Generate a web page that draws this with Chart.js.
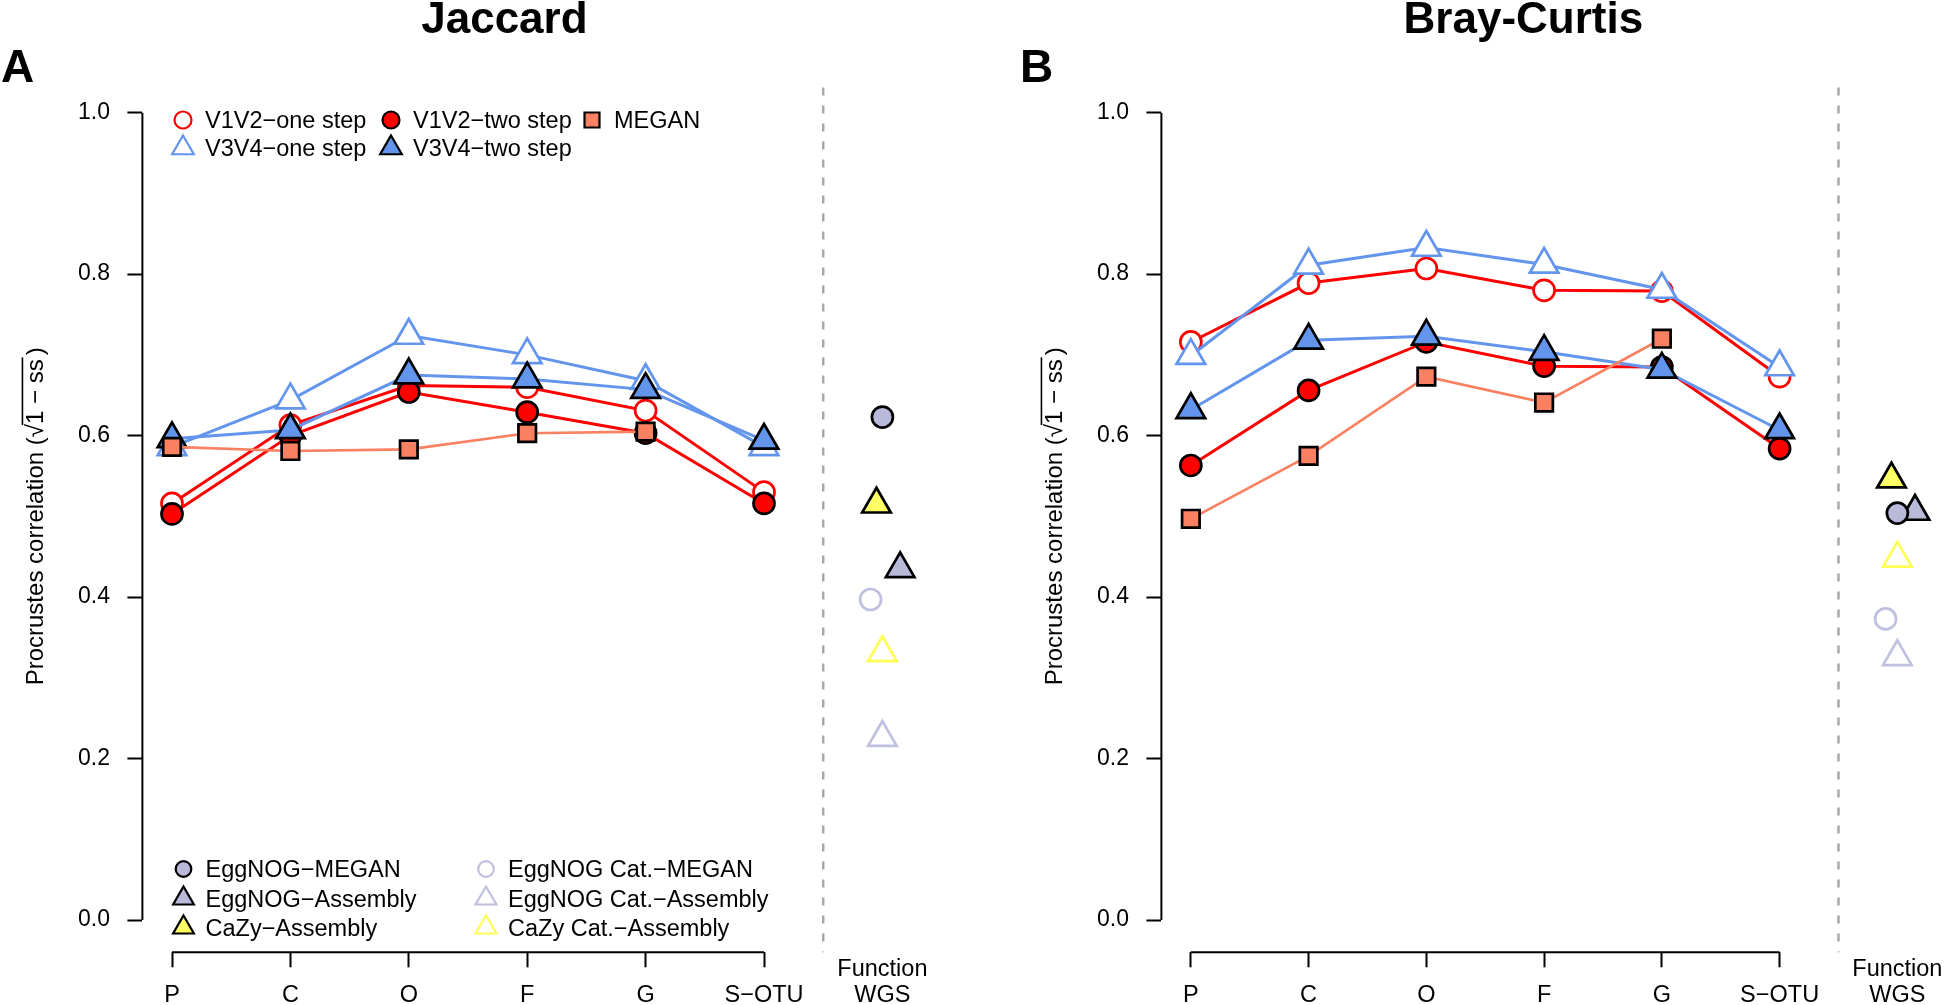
<!DOCTYPE html>
<html>
<head>
<meta charset="utf-8">
<script src="https://cdn.jsdelivr.net/npm/chart.js@4.4.1/dist/chart.umd.min.js"></script>
<style>
  html, body { margin: 0; padding: 0; background: #fff; }
  #wrap { position: relative; width: 1946px; height: 1005px; overflow: hidden; }
  canvas { position: absolute; top: 0; }
</style>
</head>
<body>
<div id="wrap">
  <canvas id="chartA" width="1019" height="1005" style="left:0"></canvas>
  <canvas id="chartB" width="927" height="1005" style="left:1019px"></canvas>
</div>
<script>
// ---- data ----
const ranks = ['P', 'C', 'O', 'F', 'G', 'S\u2212OTU'];
const rankX = [1, 2, 3, 4, 5, 6];

// Jaccard
const jacV12one = [0.516, 0.613, 0.662, 0.660, 0.631, 0.530];
const jacV12two = [0.503, 0.600, 0.654, 0.629, 0.603, 0.516];
const jacV34one = [0.586, 0.644, 0.724, 0.700, 0.668, 0.586];
const jacV34two = [0.596, 0.607, 0.675, 0.670, 0.657, 0.594];
const jacMegan  = [0.586, 0.581, 0.583, 0.603, 0.605];
// WGS function: EggNOG-MEGAN, EggNOG-Assembly, CaZy-Assembly, EggNOG Cat.-MEGAN, EggNOG Cat.-Assembly, CaZy Cat.-Assembly
const jacFunc = [0.623, 0.435, 0.515, 0.397, 0.226, 0.331];

// Bray-Curtis
const brayV12one = [0.716, 0.789, 0.807, 0.780, 0.779, 0.673];
const brayV12two = [0.563, 0.656, 0.716, 0.686, 0.685, 0.584];
const brayV34one = [0.699, 0.811, 0.833, 0.812, 0.781, 0.685];
const brayV34two = [0.632, 0.718, 0.723, 0.704, 0.682, 0.607];
const brayMegan  = [0.497, 0.575, 0.673, 0.641, 0.720];
const brayFunc = [0.504, 0.506, 0.546, 0.373, 0.326, 0.448];

// x position of the WGS points (jittered round 7)
const funcX = [7.0, 7.15, 6.95, 6.9, 7.0, 7.0];

// ---- styles ----
const FONT = '"Liberation Sans", Arial, Helvetica, sans-serif';
Chart.defaults.font.family = FONT;
Chart.defaults.color = '#000';

const red = '#FF0000', blue = '#6495ED', salmon = '#FA8062';
const lav = '#B9B9D9', lavOpen = '#C0C0E0', yel = '#FFFF66', yelOpen = '#FFFF55';

const seriesStyle = {
  v12one: { label: 'V1V2\u2212one step', line: red, pointStyle: 'circle', radius: 10.5, fill: '#fff', stroke: red, order: 5 },
  v12two: { label: 'V1V2\u2212two step', line: red, pointStyle: 'circle', radius: 10.5, fill: red, stroke: '#000', order: 4 },
  v34one: { label: 'V3V4\u2212one step', line: blue, pointStyle: 'triangle', radius: 16.5, fill: '#fff', stroke: blue, order: 3 },
  v34two: { label: 'V3V4\u2212two step', line: blue, pointStyle: 'triangle', radius: 16.5, fill: blue, stroke: '#000', order: 2 },
  megan:  { label: 'MEGAN', line: salmon, pointStyle: 'rect', radius: 12.4, fill: salmon, stroke: '#000', order: 1 }
};
const funcStyle = [
  { label: 'EggNOG\u2212MEGAN', pointStyle: 'circle', radius: 10.5, fill: lav, stroke: '#000' },
  { label: 'EggNOG\u2212Assembly', pointStyle: 'triangle', radius: 16.5, fill: lav, stroke: '#000' },
  { label: 'CaZy\u2212Assembly', pointStyle: 'triangle', radius: 16.5, fill: yel, stroke: '#000' },
  { label: 'EggNOG Cat.\u2212MEGAN', pointStyle: 'circle', radius: 10.5, fill: 'rgba(0,0,0,0)', stroke: lavOpen },
  { label: 'EggNOG Cat.\u2212Assembly', pointStyle: 'triangle', radius: 16.5, fill: 'rgba(0,0,0,0)', stroke: lavOpen },
  { label: 'CaZy Cat.\u2212Assembly', pointStyle: 'triangle', radius: 16.5, fill: 'rgba(0,0,0,0)', stroke: yelOpen }
];

// plot region geometry (pixels)
const AREA_LEFT = 142.4, AREA_RIGHT = 912, AREA_TOP = 80.4, AREA_BOTTOM = 952.3, HEIGHT = 1005;

// legend placement (panel A only)
const topLegend = [
  { key: 'v12one', x: 183, y: 120 }, { key: 'v12two', x: 391, y: 120 }, { key: 'megan', x: 592, y: 120 },
  { key: 'v34one', x: 183, y: 148 }, { key: 'v34two', x: 391, y: 148 }
];
const bottomLegend = [
  { f: 0, x: 183.5, y: 869 }, { f: 1, x: 183.5, y: 898.5 }, { f: 2, x: 183.5, y: 927.5 },
  { f: 3, x: 486, y: 869 }, { f: 4, x: 486, y: 898.5 }, { f: 5, x: 486, y: 927.5 }
];

function drawMarker(ctx, st, x, y, radius, bw) {
  ctx.save();
  ctx.fillStyle = st.fill;
  ctx.strokeStyle = st.stroke;
  ctx.lineWidth = bw;
  const opts = { pointStyle: st.pointStyle, radius: radius, rotation: 0, borderWidth: bw };
  if (Chart.helpers && Chart.helpers.drawPoint) {
    Chart.helpers.drawPoint(ctx, opts, x, y);
  } else {
    ctx.beginPath();
    if (st.pointStyle === 'circle') ctx.arc(x, y, radius, 0, Math.PI * 2);
    else if (st.pointStyle === 'rect') { const s = radius * Math.SQRT1_2; ctx.rect(x - s, y - s, 2 * s, 2 * s); }
    else {
      ctx.moveTo(x, y - radius);
      ctx.lineTo(x + radius * Math.sin(2 * Math.PI / 3), y + radius / 2);
      ctx.lineTo(x - radius * Math.sin(2 * Math.PI / 3), y + radius / 2);
      ctx.closePath();
    }
    ctx.fill(); ctx.stroke();
  }
  ctx.restore();
}

const decor = {
  id: 'decor',
  beforeDatasetsDraw(chart, args, o) {
    const { ctx, chartArea: a, scales: { x } } = chart;
    ctx.save();
    ctx.strokeStyle = '#A8A8A8';
    ctx.lineWidth = 2.5;
    ctx.setLineDash([8, 10]);
    const xd = x.getPixelForValue(6.5);
    ctx.beginPath(); ctx.moveTo(xd, a.top + 7); ctx.lineTo(xd, a.bottom); ctx.stroke();
    ctx.restore();
  },
  afterDraw(chart, args, o) {
    const { ctx, chartArea: a, scales: { x, y } } = chart;
    ctx.save();
    // axis lines, only over the data range as in the original
    ctx.strokeStyle = '#000';
    ctx.lineWidth = 2;
    ctx.beginPath();
    ctx.moveTo(a.left, y.getPixelForValue(0)); ctx.lineTo(a.left, y.getPixelForValue(1));
    ctx.moveTo(x.getPixelForValue(1), a.bottom); ctx.lineTo(x.getPixelForValue(6), a.bottom);
    ctx.stroke();

    // "Function" line above WGS
    ctx.fillStyle = '#000';
    ctx.font = '23.5px ' + FONT;
    ctx.textAlign = 'center';
    ctx.textBaseline = 'middle';
    ctx.fillText('Function', x.getPixelForValue(7), 970);

    // title and panel letter
    ctx.font = 'bold 44px ' + FONT;
    ctx.textBaseline = 'alphabetic';
    ctx.fillText(o.title, a.left + 362, 33);
    ctx.textAlign = 'left';
    ctx.font = 'bold 46px ' + FONT;
    ctx.fillText(o.letter, a.left - 141.5, 82);

    // y axis title with square root
    const fs = 24;
    ctx.font = fs + 'px ' + FONT;
    const p1 = 'Procrustes correlation (', rad = '\u221A', p2 = '1 \u2212 ss', p3 = ')';
    const w1 = ctx.measureText(p1).width, wr = ctx.measureText(rad).width;
    const w2 = ctx.measureText(p2).width, w3 = ctx.measureText(p3).width;
    const total = w1 + wr + w2 + w3 + 4;
    ctx.translate(a.left - 108.4, (y.getPixelForValue(0) + y.getPixelForValue(1)) / 2);
    ctx.rotate(-Math.PI / 2);
    let sx = -total / 2;
    const base = 8.6;
    ctx.fillText(p1, sx, base); sx += w1;
    ctx.fillText(rad, sx, base); sx += wr;
    ctx.lineWidth = 1.6;
    ctx.beginPath(); ctx.moveTo(sx - 1, base - fs * 0.84); ctx.lineTo(sx + w2 + 2, base - fs * 0.84); ctx.stroke();
    ctx.fillText(p2, sx, base); sx += w2 + 4;
    ctx.fillText(p3, sx, base);
    ctx.restore();

    if (!o.legend) return;
    ctx.save();
    ctx.font = '23.5px ' + FONT;
    ctx.fillStyle = '#000';
    ctx.textAlign = 'left';
    ctx.textBaseline = 'alphabetic';
    topLegend.forEach(it => {
      const st = seriesStyle[it.key];
      const r = st.pointStyle === 'triangle' ? 12.5 : (st.pointStyle === 'rect' ? 10.6 : 8.5);
      drawMarker(ctx, st, it.x, it.y, r, 2.2);
      ctx.fillText(st.label, it.x + 22, it.y + 8);
    });
    bottomLegend.forEach(it => {
      const st = funcStyle[it.f];
      const r = st.pointStyle === 'triangle' ? 12 : 7.8;
      drawMarker(ctx, st, it.x, it.y, r, 2.2);
      ctx.fillText(st.label, it.x + 22, it.y + 8);
    });
    ctx.restore();
  }
};

function seriesDataset(key, values) {
  const st = seriesStyle[key];
  return {
    label: st.label,
    data: values.map((v, i) => ({ x: rankX[i], y: v })),
    showLine: true,
    borderColor: st.line,
    borderWidth: key === 'megan' ? 2.6 : 3,
    pointStyle: st.pointStyle,
    pointRadius: st.radius,
    pointBackgroundColor: st.fill,
    pointBorderColor: st.stroke,
    pointBorderWidth: 2.7,
    order: st.order,
    clip: false
  };
}

function funcDatasets(values) {
  return values.map((v, i) => {
    const st = funcStyle[i];
    return {
      label: st.label,
      data: [{ x: funcX[i], y: v }],
      showLine: false,
      pointStyle: st.pointStyle,
      pointRadius: st.radius,
      pointBackgroundColor: st.fill,
      pointBorderColor: st.stroke,
      pointBorderWidth: 2.7,
      order: 0,
      clip: false
    };
  });
}

function makePanel(id, width, title, letter, legend, d) {
  const datasets = [
    seriesDataset('v12one', d.v12one),
    seriesDataset('v12two', d.v12two),
    seriesDataset('v34one', d.v34one),
    seriesDataset('v34two', d.v34two),
    seriesDataset('megan', d.megan)
  ].concat(funcDatasets(d.func));

  new Chart(document.getElementById(id).getContext('2d'), {
    type: 'scatter',
    data: { datasets: datasets },
    plugins: [decor],
    options: {
      responsive: false,
      animation: false,
      layout: { padding: { left: 0, top: AREA_TOP, right: width - AREA_RIGHT, bottom: 0 } },
      plugins: {
        legend: { display: false },
        tooltip: { enabled: false },
        decor: { title: title, letter: letter, legend: legend }
      },
      scales: {
        x: {
          type: 'linear',
          min: 0.75,
          max: 7.25,
          afterBuildTicks: s => { s.ticks = [1, 2, 3, 4, 5, 6, 7].map(v => ({ value: v })); },
          afterFit: s => { s.height = HEIGHT - AREA_BOTTOM; },
          border: { display: false },
          grid: {
            drawOnChartArea: false,
            drawTicks: true,
            tickLength: 15,
            tickWidth: 2,
            tickColor: c => (c.tick && c.tick.value === 7) ? 'rgba(0,0,0,0)' : '#000'
          },
          ticks: {
            autoSkip: false,
            maxRotation: 0,
            padding: 14.5,
            color: '#000',
            font: { size: 23.5 },
            callback: v => v === 7 ? 'WGS' : ranks[v - 1]
          }
        },
        y: {
          type: 'linear',
          min: -0.04,
          max: 1.04,
          afterBuildTicks: s => { s.ticks = [0, 0.2, 0.4, 0.6, 0.8, 1.0].map(v => ({ value: v })); },
          afterFit: s => { s.width = AREA_LEFT; },
          border: { display: false },
          grid: { drawOnChartArea: false, drawTicks: true, tickLength: 15, tickWidth: 2, tickColor: '#000' },
          ticks: {
            padding: 17.4,
            color: '#000',
            font: { size: 23 },
            callback: v => v.toFixed(1)
          }
        }
      }
    }
  });
}

makePanel('chartA', 1019, 'Jaccard', 'A', true, {
  v12one: jacV12one, v12two: jacV12two, v34one: jacV34one, v34two: jacV34two, megan: jacMegan, func: jacFunc
});
makePanel('chartB', 927, 'Bray-Curtis', 'B', false, {
  v12one: brayV12one, v12two: brayV12two, v34one: brayV34one, v34two: brayV34two, megan: brayMegan, func: brayFunc
});
</script>
</body>
</html>
